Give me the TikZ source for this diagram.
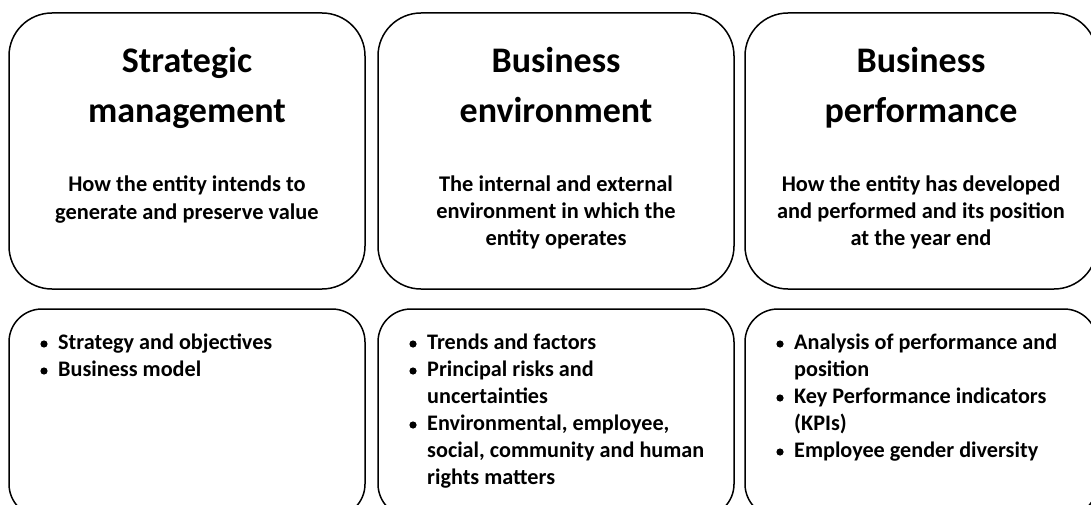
\documentclass[tikz,border=0pt]{standalone}
\usepackage{fontspec}
\setmainfont{Carlito}
\begin{document}
\begin{tikzpicture}[x=1pt,y=-1pt,
  topbox/.style={draw, line width=1.5pt, rounded corners=43pt, minimum height=276pt, inner sep=0pt},
  botbox/.style={draw, line width=1.5pt, rounded corners=33pt, minimum height=208pt, inner sep=0pt},
  titletext/.style={font=\fontsize{36}{40}\selectfont\bfseries, anchor=base, inner sep=0pt},
  subtext/.style={font=\fontsize{22.4}{27}\selectfont\bfseries, anchor=base, inner sep=0pt},
  itemtext/.style={font=\fontsize{22.2}{27}\selectfont\bfseries, anchor=base west, inner sep=0pt},
  dotmark/.style={fill=black}
]
\useasboundingbox (0,0) rectangle (1091,505);

% top boxes
\node[topbox, minimum width=356pt] (tA) at (187,151) {};
\node[topbox, minimum width=356pt] (tB) at (556,151) {};
\node[topbox, minimum width=352pt] (tC) at (921,151) {};

% bottom boxes
\node[botbox, minimum width=356pt] (bA) at (187,413) {};
\node[botbox, minimum width=356pt] (bB) at (556,413) {};
\node[botbox, minimum width=352pt] (bC) at (921,413) {};

% box A texts
\node[titletext] (a1) at (187,73) {Strategic};
\node[titletext] (a2) at (187,123) {management};
\node[subtext] (a3) at (187,191) {How the entity intends to};
\node[subtext] (a4) at (187,219) {generate and preserve value};

% box B texts
\node[titletext] (b1) at (556,73) {Business};
\node[titletext] (b2) at (556,123) {environment};
\node[subtext] (b3) at (556,191) {The internal and external};
\node[subtext] (b4) at (556,218) {environment in which the};
\node[subtext] (b5) at (556,245) {entity operates};

% box C texts
\node[titletext] (c1) at (921,73) {Business};
\node[titletext] (c2) at (921,123) {performance};
\node[subtext] (c3) at (921,191) {How the entity has developed};
\node[subtext] (c4) at (921,218) {and performed and its position};
\node[subtext] (c5) at (921,245) {at the year end};

% bullets A
\fill[dotmark] (44,344) circle (3.6pt);
\node[itemtext] (ia1) at (58,349) {Strategy and objectives};
\fill[dotmark] (44,371) circle (3.6pt);
\node[itemtext] (ia2) at (58,376) {Business model};

% bullets B
\fill[dotmark] (413,344) circle (3.6pt);
\node[itemtext] (ib1) at (427,349) {Trends and factors};
\fill[dotmark] (413,371) circle (3.6pt);
\node[itemtext] (ib2) at (427,376) {Principal risks and};
\node[itemtext] (ib3) at (427,403) {uncertainties};
\fill[dotmark] (413,425) circle (3.6pt);
\node[itemtext] (ib4) at (427,430) {Environmental, employee,};
\node[itemtext] (ib5) at (427,457) {social, community and human};
\node[itemtext] (ib6) at (427,484) {rights matters};

% bullets C
\fill[dotmark] (780,344) circle (3.6pt);
\node[itemtext] (ic1) at (794,349) {Analysis of performance and};
\node[itemtext] (ic2) at (794,376) {position};
\fill[dotmark] (780,398) circle (3.6pt);
\node[itemtext] (ic3) at (794,403) {Key Performance indicators};
\node[itemtext] (ic4) at (794,430) {(KPIs)};
\fill[dotmark] (780,452) circle (3.6pt);
\node[itemtext] (ic5) at (794,457) {Employee gender diversity};
\end{tikzpicture}
\end{document}
